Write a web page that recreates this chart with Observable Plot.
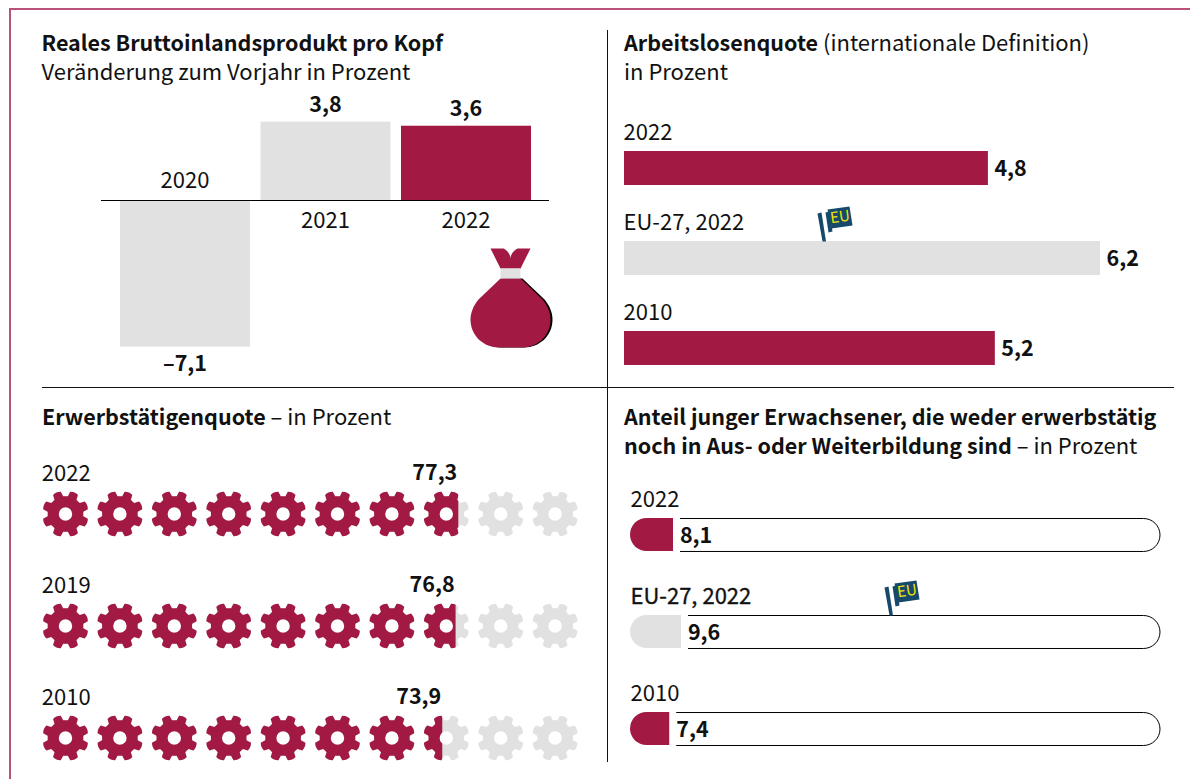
<!DOCTYPE html>
<html lang="de">
<head>
<meta charset="utf-8">
<script src="https://cdn.jsdelivr.net/npm/d3@7"></script>
<script src="https://cdn.jsdelivr.net/npm/@observablehq/plot@0.6"></script>
<style>
  html, body { margin: 0; padding: 0; background: #fff; }
  #page { position: relative; width: 1190px; height: 779px; overflow: hidden; color: #111;
          font-family: "Noto Sans CJK SC", "Noto Sans", sans-serif; }
  #page svg { position: absolute; overflow: visible; background: transparent; }
  .frame-top { position: absolute; left: 9px; right: 0; top: 8px; height: 2px; background: #b9527a; }
  .frame-left { position: absolute; left: 9px; top: 8px; bottom: 0; width: 2px; background: #b9527a; }
  .div-v { position: absolute; left: 607px; top: 30px; height: 732px; width: 1px; background: #111; }
  .div-h { position: absolute; left: 42px; top: 387px; width: 1132px; height: 1px; background: #111; }
  .title { position: absolute; font-size: 22px; line-height: 29px; white-space: nowrap; }
  .title b { font-weight: 700; font-size: 21.5px; }
</style>
</head>
<body>
<div id="page">
  <div class="frame-top"></div>
  <div class="frame-left"></div>
  <div class="div-v"></div>
  <div class="div-h"></div>
  <div class="title" style="left:41.5px;top:27px"><b>Reales Bruttoinlandsprodukt pro Kopf</b><br>Veränderung zum Vorjahr in Prozent</div>
  <div class="title" style="left:624px;top:27px"><b>Arbeitslosenquote</b> (internationale Definition)<br>in Prozent</div>
  <div class="title" style="left:42px;top:401px"><b>Erwerbstätigenquote</b> – in Prozent</div>
  <div class="title" style="left:624px;top:401px"><b>Anteil junger Erwachsener, die weder erwerbstätig<br>noch in Aus- oder Weiterbildung sind</b> – in Prozent</div>
</div>
<script>
// ---- data ----
const gdpYears = ["2020", "2021", "2022"];
const gdpValues = [-7.1, 3.8, 3.6];
const gdpLabels = ["–7,1", "3,8", "3,6"];

const jobRows = ["2022", "EU-27, 2022", "2010"];
const jobLabels = ["4,8", "6,2", "5,2"];
// drawn bar lengths as measured; the printed bars are not strictly proportional to their labels
const jobBarLengths = [4.74, 6.2, 4.83];

const empRows = ["2022", "2019", "2010"];
const empLabels = ["77,3", "76,8", "73,9"];
// drawn fill extents as measured; the lowest row is printed slightly fuller than its 73,9 label
const empFillExtents = [77.3, 76.8, 74.35];
const gearSlots = [5, 15, 25, 35, 45, 55, 65, 75, 85, 95];

const neetRows = ["2022", "EU-27, 2022", "2010"];
const neetValues = [8.1, 9.6, 7.4];
const neetLabels = ["8,1", "9,6", "7,4"];

// ---- style ----
const RED = "#a21a43", GREY = "#e1e1e1", INK = "#111111", NAVY = "#17496b", YELLOW = "#f4e500";
const FONT = '"Noto Sans CJK SC", "Noto Sans", sans-serif';
const FS = 22, FSB = 21.5;

const page = document.getElementById("page");
function place(plot, left, top) {
  plot.style.left = left + "px";
  plot.style.top = top + "px";
  page.appendChild(plot);
}
const base = (w, h) => ({
  width: w, height: h, marginTop: 0, marginRight: 0, marginBottom: 0, marginLeft: 0,
  style: { background: "transparent", fontFamily: FONT, overflow: "visible" }
});

// clip a mark to an interval of its x scale (used for the part-filled gears and pills)
let clipCount = 0;
const clipX = (from, to, pad0 = 0, pad1 = 0) => function (index, scales, values, dim, ctx, next) {
  const g = next(index, scales, values, dim, ctx);
  const NS = "http://www.w3.org/2000/svg";
  const id = "clip" + (++clipCount);
  const cp = document.createElementNS(NS, "clipPath");
  cp.setAttribute("id", id);
  const r = document.createElementNS(NS, "rect");
  const a = scales.x(from) + pad0, b = scales.x(to) + pad1;
  r.setAttribute("x", a); r.setAttribute("width", b - a);
  r.setAttribute("y", -50); r.setAttribute("height", dim.height + 100);
  cp.appendChild(r);
  const wrap = document.createElementNS(NS, "g");
  wrap.appendChild(cp);
  wrap.appendChild(g);
  wrap.setAttribute("clip-path", `url(#${id})`);
  return wrap;
};

// ---- pictograms as custom dot symbols ----
const gearSymbol = {
  draw(c, size) {
    const R = Math.sqrt(size / Math.PI), Rr = R * 0.75, deg = Math.PI / 180;
    const P = (r, a) => [r * Math.cos(a * deg), r * Math.sin(a * deg)];
    for (let k = 0; k < 8; k++) {
      const a = 22.5 + 45 * k;
      const p0 = P(Rr, a - 15), p1 = P(R * 0.95, a - 10.5), ctrl = P(R * 1.01, a), p2 = P(R * 0.95, a + 10.5), p3 = P(Rr, a + 15);
      if (k === 0) c.moveTo(...p0); else c.lineTo(...p0);
      c.lineTo(...p1);
      c.quadraticCurveTo(...ctrl, ...p2);
      c.lineTo(...p3);
      c.quadraticCurveTo(...P(Rr * 0.98, a + 22.5), ...P(Rr, a + 30));
    }
    c.closePath();
    const h = R * 0.28;
    c.moveTo(h, 0);
    c.arc(0, 0, h, 0, 2 * Math.PI, true);
    c.closePath();
  }
};
const polygon = pts => ({ draw(c) { pts.forEach((p, i) => i ? c.lineTo(...p) : c.moveTo(...p)); c.closePath(); } });
const bagBody = {
  draw(c) {
    c.moveTo(-10, -20);
    c.lineTo(-32, 1);
    c.bezierCurveTo(-37, 7, -40, 14, -40, 21);
    c.bezierCurveTo(-40, 38, -26, 49, -12, 49);
    c.lineTo(12, 49);
    c.bezierCurveTo(26, 49, 40, 38, 40, 21);
    c.bezierCurveTo(40, 14, 37, 7, 32, 1);
    c.lineTo(10, -20);
    c.closePath();
  }
};
const bagEars = {
  draw(c) {
    c.moveTo(-20, -50);
    c.lineTo(-7, -50);
    c.bezierCurveTo(-3, -48, 0, -44, 0, -40);
    c.bezierCurveTo(0, -44, 3, -48, 7, -50);
    c.lineTo(20, -50);
    c.lineTo(10, -30);
    c.lineTo(-10, -30);
    c.closePath();
  }
};
const flagPole = polygon([[-18, -12], [-14, -13], [-9.5, 16], [-13, 16]]);
const flagFold = polygon([[-10, -13], [-6, -14], [-3, 6], [-7, 7]]);
const flagCloth = polygon([[-8, -16], [14, -19], [17, 0], [-4, 3]]);

const anchored = (left, top) => ({ frameAnchor: "top-left", dx: left, dy: top });
const icon = (symbol, fill, left, top) =>
  Plot.dot([0], { ...anchored(left, top), symbol, r: 4, fill, stroke: "none" });
function flag(left, top) {
  return [
    icon(flagPole, NAVY, left, top),
    icon(flagFold, NAVY, left, top),
    icon(flagCloth, NAVY, left, top),
    Plot.text(["EU"], { ...anchored(left + 4.5, top - 8.5), text: d => d, textAnchor: "middle", lineAnchor: "middle",
      rotate: -8, fontSize: 15, fill: YELLOW, fontFamily: FONT })
  ];
}

// ---- panel 1: GDP ----
const gdpData = gdpYears.map((year, i) => ({ year, value: gdpValues[i], label: gdpLabels[i] }));
const pos = gdpData.filter(d => d.value > 0), neg = gdpData.filter(d => d.value < 0);
place(Plot.plot({
  ...base(448, 295),
  x: { type: "band", domain: gdpYears, range: [19, 430], paddingInner: 0.0747, paddingOuter: 0, round: false, axis: null },
  y: { domain: [-7.1, 3.8], range: [256.6, 31.6], axis: null },
  marks: [
    Plot.barY(gdpData, { x: "year", y: "value", fill: d => d.year === "2022" ? RED : GREY }),
    Plot.ruleY([0], { stroke: "#000", shapeRendering: "crispEdges" }),
    Plot.text(pos, { x: "year", y: "value", text: "label", dx: -0.5, dy: -17, fontSize: FSB, fontWeight: 700, fill: INK }),
    Plot.text(neg, { x: "year", y: "value", text: "label", dx: -0.5, dy: 17, fontSize: FSB, fontWeight: 700, fill: INK }),
    Plot.text(neg, { x: "year", y: () => 0, text: "year", dx: -0.5, dy: -20, fontSize: FS, fill: INK }),
    Plot.text(pos, { x: "year", y: () => 0, text: "year", dx: -0.5, dy: 20, fontSize: FS, fill: INK }),
    icon(bagBody, "#000", 411, 208),
    icon(bagBody, RED, 409, 208),
    icon(bagEars, RED, 409, 208),
    icon(polygon([[-10, -30], [10, -30], [10, -20], [-10, -20]]), GREY, 409, 208)
  ]
}), 101, 90);

// ---- panel 2: unemployment ----
const jobData = jobRows.map((row, i) => ({ row, length: jobBarLengths[i], label: jobLabels[i] }));
place(Plot.plot({
  ...base(580, 295),
  x: { domain: [0, 6.2], range: [14, 490], axis: null },
  y: { type: "band", domain: jobRows, range: [61, 275], paddingInner: 0.622, paddingOuter: 0, round: false, axis: null },
  marks: [
    Plot.barX(jobData, { x: "length", y: "row", fill: d => d.row.startsWith("EU") ? GREY : RED }),
    Plot.text(jobData, { x: () => 0, y: "row", text: "row", dx: -1, dy: -35.2, textAnchor: "start", fontSize: FS, fill: INK }),
    Plot.text(jobData, { x: "length", y: "row", text: "label", dx: 6, dy: 1, textAnchor: "start", fontSize: FSB, fontWeight: 700, fill: INK }),
    ...flag(225, 135)
  ]
}), 610, 90);

// ---- panel 3: employment gears ----
const empData = empRows.map((row, i) => ({ row, value: empFillExtents[i], label: empLabels[i] }));
const gearRows = empRows.flatMap(row => gearSlots.map(slot => ({ row, slot })));
place(Plot.plot({
  ...base(570, 319),
  x: { domain: [0, 100], range: [7.8, 551.8], axis: null },
  y: { type: "point", domain: empRows, range: [53.5, 277.5], padding: 0, round: false, axis: null },
  marks: [
    Plot.dot(gearRows, { x: "slot", y: "row", symbol: gearSymbol, r: 24, fill: GREY, stroke: "none" }),
    ...empData.map(d => Plot.dot(gearRows.filter(g => g.row === d.row), {
      x: "slot", y: "row", symbol: gearSymbol, r: 24, fill: RED, stroke: "none", render: clipX(0, d.value)
    })),
    Plot.text(empData, { x: "value", y: "row", text: "label", dy: -40.5, dx: -1.5, textAnchor: "end", fontSize: FSB, fontWeight: 700, fill: INK }),
    Plot.text(empData, { x: () => 0, y: "row", text: "row", dy: -40.5, dx: 3.5, textAnchor: "start", fontSize: FS, fill: INK })
  ]
}), 30, 460);

// ---- panel 4: young adults ----
const neetData = neetRows.map((row, i) => ({ row, value: neetValues[i], label: neetLabels[i] }));
const isEU = d => d.row.startsWith("EU");
const R = 16.5;
place(Plot.plot({
  ...base(580, 319),
  x: { domain: [0, 100], range: [20, 550], axis: null },
  y: { type: "band", domain: neetRows, range: [58, 285], paddingInner: 0.66, paddingOuter: 0, round: false, axis: null },
  marks: [
    ...neetData.map(d => Plot.barX([d], {
      x1: () => 0, x2: () => 100, y: "row", rx: R, fill: isEU(d) ? GREY : RED, render: clipX(0, d.value)
    })),
    ...neetData.map(d => Plot.barX([d], {
      x1: () => 0, x2: () => 100, y: "row", rx: R, dy: 0.5, fill: "none", stroke: "#000", strokeWidth: 1, render: clipX(d.value, 100, 7, 3)
    })),
    Plot.text(neetData, { x: "value", y: "row", text: "label", dx: 6.5, dy: 1.5, textAnchor: "start", fontSize: FSB, fontWeight: 700, fill: INK }),
    Plot.text(neetData.filter(d => !isEU(d)), { x: () => 0, y: "row", text: "row", dy: -35, textAnchor: "start", fontSize: FS, fill: INK }),
    Plot.text(neetData.filter(isEU), { x: () => 0, y: "row", text: "row", dy: -35, textAnchor: "start", fontSize: FS, fill: INK, stroke: INK, strokeWidth: 0.35 }),
    ...flag(292, 139)
  ]
}), 610, 460);
</script>
</body>
</html>
